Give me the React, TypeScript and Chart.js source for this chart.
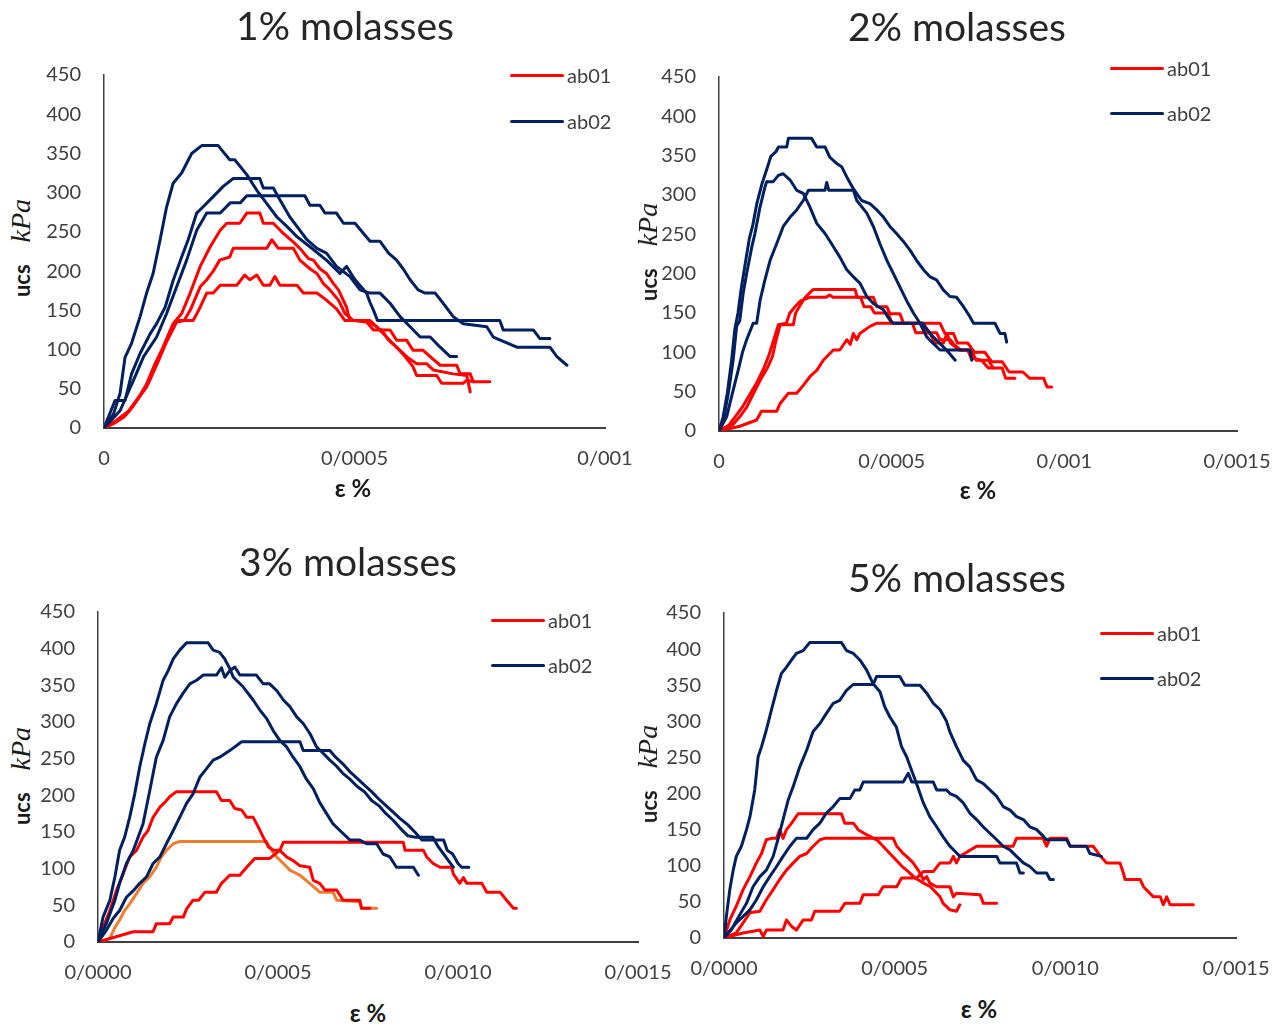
import React, { useEffect, useRef } from "react";
import { Chart, registerables } from "chart.js";

Chart.register(...registerables);

type Pt = [number, number];

const RED = "#FF0000";
const NAVY = "#002060";
const ORANGE = "#ED7D31";
const TICK_COLOR = "#404040";
const AXIS_COLOR = "#404040";
const FONT = "Lato, 'Noto Sans', sans-serif";

const UCS_TICKS = [0, 50, 100, 150, 200, 250, 300, 350, 400, 450];
const SERIES_NAMES = ["ab01", "ab02"];

// ---------- 1% molasses ----------
const M1_TITLE = "1% molasses";
const M1_X_TICKS = [0, 5e-4, 10e-4];
const M1_X_LABELS = ["0", "0/0005", "0/001"];
const m1_ab02_1: Pt[] = [[0,0],[0.19e-4,18],[0.32e-4,44],[0.42e-4,90],[0.55e-4,108],[0.72e-4,142],[0.85e-4,172],[0.98e-4,197],[1.12e-4,240],[1.25e-4,282],[1.38e-4,312],[1.55e-4,325],[1.75e-4,350],[1.95e-4,360],[2.28e-4,360],[2.38e-4,352],[2.51e-4,342],[2.61e-4,342],[2.85e-4,323],[3.05e-4,303],[3.25e-4,286],[3.45e-4,269],[3.65e-4,257],[3.85e-4,244],[4.11e-4,231],[4.44e-4,214],[4.71e-4,197],[4.84e-4,206],[5.01e-4,189],[5.24e-4,172],[5.31e-4,160],[5.38e-4,150],[5.46e-4,137],[7.90e-4,137],[7.97e-4,125],[8.57e-4,125],[8.70e-4,114],[8.90e-4,114]];
const m1_ab02_2: Pt[] = [[0,0],[0.22e-4,35],[0.42e-4,35],[0.55e-4,69],[0.72e-4,95],[0.92e-4,120],[1.05e-4,133],[1.22e-4,154],[1.38e-4,188],[1.55e-4,218],[1.68e-4,240],[1.85e-4,274],[1.98e-4,282],[2.18e-4,295],[2.38e-4,308],[2.58e-4,318],[3.11e-4,318],[3.18e-4,306],[3.38e-4,306],[3.51e-4,291],[3.71e-4,269],[3.91e-4,252],[4.05e-4,240],[4.25e-4,229],[4.44e-4,223],[4.64e-4,206],[4.91e-4,193],[5.11e-4,176],[5.31e-4,172],[5.51e-4,172],[5.71e-4,159],[5.91e-4,142],[6.11e-4,129],[6.31e-4,116],[6.51e-4,116],[6.71e-4,103],[6.91e-4,91],[7.04e-4,91]];
const m1_ab02_3: Pt[] = [[0,0],[0.32e-4,22],[0.59e-4,61],[0.79e-4,91],[1.05e-4,116],[1.25e-4,146],[1.45e-4,180],[1.65e-4,214],[1.85e-4,252],[2.05e-4,274],[2.32e-4,274],[2.52e-4,287],[2.72e-4,287],[2.85e-4,296],[4.01e-4,296],[4.11e-4,284],[4.31e-4,284],[4.41e-4,274],[4.64e-4,274],[4.78e-4,261],[5.01e-4,261],[5.18e-4,248],[5.31e-4,238],[5.51e-4,238],[5.68e-4,223],[5.84e-4,214],[5.97e-4,203],[6.11e-4,189],[6.27e-4,176],[6.41e-4,172],[6.61e-4,172],[6.77e-4,159],[6.97e-4,142],[7.17e-4,133],[7.64e-4,129],[7.77e-4,116],[8.24e-4,103],[8.90e-4,103],[9.04e-4,91],[9.24e-4,80]];
const m1_ab01_1: Pt[] = [[0,0],[0.2e-4,6],[0.4e-4,14],[0.55e-4,25],[0.7e-4,39],[0.85e-4,56],[1.02e-4,82],[1.18e-4,103],[1.38e-4,133],[1.55e-4,146],[1.72e-4,172],[1.92e-4,206],[2.12e-4,231],[2.32e-4,252],[2.45e-4,261],[2.71e-4,261],[2.85e-4,274],[3.11e-4,274],[3.18e-4,261],[3.38e-4,261],[3.58e-4,248],[3.78e-4,237],[3.91e-4,229],[4.08e-4,216],[4.18e-4,214],[4.31e-4,203],[4.44e-4,197],[4.58e-4,184],[4.68e-4,176],[4.84e-4,154],[4.91e-4,137],[5.31e-4,137],[5.51e-4,125],[5.71e-4,125],[5.84e-4,112],[6.04e-4,112],[6.17e-4,99],[6.37e-4,99],[6.51e-4,91],[6.71e-4,80],[7.04e-4,80],[7.11e-4,69],[7.31e-4,69],[7.37e-4,59],[7.70e-4,59]];
const m1_ab01_2: Pt[] = [[0,0],[0.25e-4,8],[0.45e-4,18],[0.65e-4,35],[0.85e-4,52],[1.05e-4,80],[1.25e-4,110],[1.45e-4,135],[1.6e-4,137],[1.72e-4,150],[1.82e-4,165],[1.92e-4,180],[2.05e-4,189],[2.18e-4,200],[2.31e-4,214],[2.51e-4,218],[2.58e-4,229],[3.25e-4,229],[3.35e-4,240],[3.48e-4,229],[3.78e-4,229],[3.91e-4,214],[4.11e-4,203],[4.25e-4,197],[4.38e-4,184],[4.51e-4,176],[4.68e-4,163],[4.81e-4,146],[4.98e-4,137],[5.24e-4,135],[5.38e-4,125],[5.54e-4,125],[5.68e-4,112],[5.84e-4,103],[6.04e-4,91],[6.24e-4,82],[6.44e-4,82],[6.57e-4,74],[6.97e-4,69],[7.24e-4,67],[7.31e-4,46]];
const m1_ab01_3: Pt[] = [[0,0],[0.25e-4,10],[0.5e-4,22],[0.7e-4,40],[0.9e-4,60],[1.1e-4,90],[1.3e-4,120],[1.45e-4,137],[1.78e-4,137],[1.92e-4,154],[2.05e-4,172],[2.18e-4,172],[2.32e-4,182],[2.65e-4,182],[2.81e-4,195],[2.91e-4,189],[3.05e-4,195],[3.18e-4,182],[3.31e-4,182],[3.41e-4,193],[3.51e-4,182],[3.85e-4,182],[3.98e-4,172],[4.25e-4,172],[4.44e-4,163],[4.64e-4,152],[4.81e-4,137],[5.24e-4,137],[5.44e-4,129],[5.64e-4,116],[5.84e-4,103],[6.01e-4,91],[6.17e-4,78],[6.24e-4,67],[6.64e-4,67],[6.74e-4,57],[7.17e-4,57],[7.24e-4,61],[7.37e-4,59]];

// ---------- 2% molasses ----------
const M2_TITLE = "2% molasses";
const M2_X_TICKS = [0, 5e-4, 10e-4, 15e-4];
const M2_X_LABELS = ["0", "0/0005", "0/001", "0/0015"];
const m2_ab02_1: Pt[] = [[0,0],[0.12e-4,18],[0.24e-4,48],[0.36e-4,88],[0.46e-4,130],[0.55e-4,150],[0.64e-4,180],[0.75e-4,210],[0.88e-4,245],[0.98e-4,262],[1.1e-4,290],[1.25e-4,315],[1.4e-4,335],[1.5e-4,349],[1.65e-4,355],[1.72e-4,361],[1.96e-4,361],[2.01e-4,372],[2.68e-4,372],[2.83e-4,361],[3.07e-4,361],[3.21e-4,348],[3.41e-4,340],[3.55e-4,336],[3.70e-4,323],[3.89e-4,308],[4.13e-4,293],[4.37e-4,289],[4.57e-4,281],[4.76e-4,272],[4.95e-4,260],[5.14e-4,251],[5.34e-4,241],[5.53e-4,230],[5.72e-4,217],[5.92e-4,205],[6.11e-4,196],[6.30e-4,192],[6.50e-4,179],[6.69e-4,171],[6.88e-4,170],[7.08e-4,158],[7.27e-4,145],[7.37e-4,137],[7.99e-4,137],[8.14e-4,124],[8.28e-4,124],[8.33e-4,113]];
const m2_ab02_2: Pt[] = [[0,0],[0.13e-4,14],[0.27e-4,48],[0.41e-4,90],[0.51e-4,133],[0.6e-4,140],[0.70e-4,175],[0.80e-4,200],[0.95e-4,234],[1.04e-4,251],[1.19e-4,285],[1.33e-4,310],[1.38e-4,317],[1.57e-4,317],[1.72e-4,325],[1.86e-4,327],[2.06e-4,319],[2.25e-4,306],[2.44e-4,302],[2.63e-4,285],[2.83e-4,264],[3.07e-4,251],[3.26e-4,238],[3.50e-4,221],[3.70e-4,205],[3.89e-4,196],[4.08e-4,188],[4.28e-4,171],[4.47e-4,162],[4.76e-4,154],[4.95e-4,141],[5.05e-4,137],[5.90e-4,137],[6.11e-4,124],[6.40e-4,111],[6.59e-4,103],[6.84e-4,90]];
const m2_ab02_3: Pt[] = [[0,0],[0.22e-4,18],[0.40e-4,50],[0.56e-4,78],[0.68e-4,100],[0.80e-4,116],[0.99e-4,137],[1.09e-4,137],[1.19e-4,166],[1.33e-4,192],[1.48e-4,217],[1.67e-4,238],[1.86e-4,260],[2.06e-4,272],[2.25e-4,281],[2.44e-4,293],[2.59e-4,306],[3.07e-4,306],[3.12e-4,316],[3.18e-4,306],[3.89e-4,306],[3.99e-4,293],[4.28e-4,277],[4.47e-4,260],[4.66e-4,238],[4.86e-4,217],[5.05e-4,200],[5.24e-4,183],[5.43e-4,166],[5.63e-4,150],[5.82e-4,137],[6.01e-4,120],[6.21e-4,111],[6.40e-4,103],[7.27e-4,103],[7.32e-4,90]];
const m2_ab01_1: Pt[] = [[0,0],[0.4e-4,8],[0.6e-4,18],[0.8e-4,30],[1.0e-4,48],[1.2e-4,65],[1.4e-4,80],[1.55e-4,95],[1.65e-4,115],[1.77e-4,135],[2.15e-4,135],[2.22e-4,150],[2.35e-4,160],[2.5e-4,170],[2.73e-4,180],[3.94e-4,180],[4.0e-4,170],[4.47e-4,170],[4.57e-4,158],[4.86e-4,158],[4.95e-4,149],[5.24e-4,149],[5.34e-4,137],[5.9e-4,137],[6.0e-4,125],[6.3e-4,125],[6.4e-4,116],[6.7e-4,116],[6.8e-4,110],[7.0e-4,103],[7.3e-4,103],[7.45e-4,90],[7.8e-4,90],[7.94e-4,80]];
const m2_ab01_2: Pt[] = [[0,0],[0.3e-4,8],[0.5e-4,20],[0.7e-4,32],[0.9e-4,47],[1.1e-4,62],[1.3e-4,80],[1.45e-4,97],[1.6e-4,118],[1.72e-4,135],[1.95e-4,137],[2.05e-4,150],[2.2e-4,158],[2.35e-4,165],[2.63e-4,170],[3.1e-4,170],[3.2e-4,173],[3.3e-4,170],[4.1e-4,170],[4.2e-4,158],[4.4e-4,158],[4.5e-4,150],[4.9e-4,150],[5.0e-4,137],[5.6e-4,137],[5.7e-4,125],[6.1e-4,125],[6.25e-4,112],[6.5e-4,112],[6.6e-4,124],[6.7e-4,112],[6.95e-4,103],[7.2e-4,103],[7.3e-4,93],[7.6e-4,90],[7.8e-4,80],[8.2e-4,80],[8.3e-4,67],[8.57e-4,67]];
const m2_ab01_3: Pt[] = [[0,0],[0.6e-4,6],[1.09e-4,14],[1.23e-4,25],[1.67e-4,25],[1.77e-4,35],[2.01e-4,48],[2.25e-4,48],[2.44e-4,58],[2.63e-4,69],[2.83e-4,77],[3.02e-4,90],[3.31e-4,103],[3.50e-4,103],[3.70e-4,116],[3.80e-4,110],[3.89e-4,124],[3.99e-4,116],[4.08e-4,124],[4.37e-4,133],[4.57e-4,137],[6.40e-4,137],[6.54e-4,124],[6.79e-4,124],[6.9e-4,112],[7.2e-4,112],[7.4e-4,100],[7.7e-4,100],[7.9e-4,88],[8.2e-4,88],[8.4e-4,75],[8.8e-4,75],[9.0e-4,67],[9.4e-4,67],[9.5e-4,56],[9.63e-4,56]];

// ---------- 3% molasses ----------
const M3_TITLE = "3% molasses";
const M3_X_TICKS = [0, 5e-4, 10e-4, 15e-4];
const M3_X_LABELS = ["0/0000", "0/0005", "0/0010", "0/0015"];
const m3_ab02_1: Pt[] = [[0,0],[0.14e-4,34],[0.33e-4,57],[0.47e-4,89],[0.60e-4,125],[0.74e-4,143],[0.88e-4,170],[1.02e-4,202],[1.16e-4,239],[1.30e-4,270],[1.44e-4,298],[1.62e-4,325],[1.81e-4,357],[1.95e-4,370],[2.09e-4,386],[2.27e-4,398],[2.46e-4,408],[3.06e-4,408],[3.20e-4,398],[3.38e-4,395],[3.52e-4,386],[3.66e-4,373],[3.76e-4,361],[4.03e-4,348],[4.31e-4,330],[4.50e-4,316],[4.68e-4,305],[4.87e-4,288],[5.05e-4,275],[5.24e-4,266],[5.42e-4,252],[5.61e-4,239],[5.79e-4,222],[5.98e-4,209],[6.16e-4,190],[6.35e-4,175],[6.53e-4,161],[6.72e-4,152],[7.0e-4,139],[7.27e-4,139],[7.46e-4,134],[7.74e-4,134],[7.92e-4,120],[8.11e-4,116],[8.29e-4,102],[8.76e-4,102],[8.90e-4,91]];
const m3_ab02_2: Pt[] = [[0,0],[0.23e-4,25],[0.47e-4,57],[0.60e-4,80],[0.79e-4,107],[0.98e-4,125],[1.25e-4,161],[1.44e-4,207],[1.62e-4,252],[1.81e-4,275],[1.99e-4,307],[2.18e-4,325],[2.36e-4,339],[2.55e-4,352],[2.74e-4,357],[2.92e-4,364],[3.29e-4,364],[3.43e-4,374],[3.52e-4,361],[3.66e-4,370],[3.80e-4,375],[3.94e-4,364],[4.40e-4,364],[4.59e-4,352],[4.77e-4,352],[4.96e-4,343],[5.15e-4,330],[5.33e-4,321],[5.52e-4,307],[5.70e-4,298],[5.89e-4,284],[6.07e-4,266],[6.26e-4,257],[6.44e-4,248],[6.62e-4,240],[6.8e-4,230],[7.0e-4,222],[7.2e-4,212],[7.4e-4,205],[7.6e-4,193],[7.8e-4,186],[8.0e-4,175],[8.2e-4,166],[8.4e-4,155],[8.6e-4,145],[8.8e-4,143],[9.3e-4,143],[9.45e-4,130],[9.6e-4,120],[9.75e-4,110],[9.87e-4,102]];
const m3_ab02_3: Pt[] = [[0,0],[0.23e-4,16],[0.42e-4,32],[0.60e-4,43],[0.79e-4,61],[0.98e-4,70],[1.16e-4,80],[1.35e-4,89],[1.53e-4,107],[1.72e-4,116],[1.90e-4,134],[2.09e-4,152],[2.27e-4,170],[2.46e-4,189],[2.64e-4,202],[2.83e-4,225],[3.01e-4,236],[3.20e-4,248],[3.38e-4,252],[3.66e-4,261],[3.99e-4,273],[5.61e-4,273],[5.70e-4,261],[6.44e-4,261],[6.6e-4,252],[6.8e-4,243],[7.0e-4,232],[7.2e-4,223],[7.4e-4,214],[7.6e-4,205],[7.8e-4,195],[8.0e-4,186],[8.2e-4,177],[8.4e-4,168],[8.6e-4,160],[8.8e-4,150],[9.0e-4,139],[9.6e-4,139],[9.7e-4,125],[9.85e-4,120],[10.0e-4,107],[10.1e-4,102],[10.3e-4,102]];
const m3_ab01_1: Pt[] = [[0,0],[0.14e-4,20],[0.33e-4,43],[0.51e-4,70],[0.70e-4,93],[0.88e-4,116],[1.07e-4,125],[1.25e-4,143],[1.39e-4,152],[1.53e-4,170],[1.72e-4,184],[1.85e-4,190],[1.99e-4,198],[2.18e-4,205],[3.29e-4,205],[3.43e-4,193],[3.66e-4,193],[3.80e-4,182],[3.99e-4,180],[4.13e-4,170],[4.31e-4,170],[4.45e-4,157],[4.59e-4,143],[4.73e-4,130],[4.87e-4,125],[5.05e-4,125],[5.24e-4,116],[5.42e-4,111],[5.61e-4,104],[5.88e-4,102],[5.98e-4,84],[6.16e-4,80],[6.30e-4,71],[6.63e-4,71],[6.81e-4,57],[7.27e-4,57],[7.32e-4,46],[7.55e-4,46]];
const m3_ab01_2: Pt[] = [[0,0],[0.33e-4,5],[0.47e-4,20],[0.60e-4,30],[0.74e-4,43],[0.88e-4,52],[1.07e-4,66],[1.25e-4,80],[1.44e-4,89],[1.62e-4,102],[1.76e-4,116],[1.90e-4,125],[2.09e-4,134],[2.27e-4,137],[4.68e-4,137],[4.82e-4,125],[4.96e-4,116],[5.15e-4,107],[5.33e-4,98],[5.61e-4,91],[5.88e-4,80],[6.16e-4,68],[6.53e-4,68],[6.63e-4,57],[7.27e-4,55],[7.32e-4,46],[7.74e-4,46]];
const m3_ab01_3: Pt[] = [[0,0],[0.98e-4,14],[1.53e-4,14],[1.62e-4,25],[1.99e-4,25],[2.09e-4,34],[2.37e-4,34],[2.46e-4,45],[2.64e-4,57],[2.80e-4,57],[2.97e-4,68],[3.29e-4,68],[3.43e-4,80],[3.66e-4,91],[3.94e-4,91],[4.13e-4,102],[4.36e-4,114],[4.77e-4,114],[5.05e-4,125],[5.15e-4,136],[8.48e-4,136],[8.53e-4,125],[9.04e-4,125],[9.13e-4,116],[9.31e-4,107],[9.50e-4,102],[9.82e-4,102],[9.87e-4,93],[10.05e-4,80],[10.15e-4,88],[10.24e-4,80],[10.66e-4,80],[10.80e-4,68],[11.17e-4,68],[11.35e-4,57],[11.54e-4,46],[11.62e-4,46]];

// ---------- 5% molasses ----------
const M4_TITLE = "5% molasses";
const M4_X_TICKS = [0, 5e-4, 10e-4, 15e-4];
const M4_X_LABELS = ["0/0000", "0/0005", "0/0010", "0/0015"];
const m4_ab02_1: Pt[] = [[0,0],[0.07e-4,30],[0.17e-4,67],[0.27e-4,94],[0.36e-4,113],[0.51e-4,127],[0.66e-4,150],[0.76e-4,168],[0.90e-4,205],[1.0e-4,251],[1.1e-4,265],[1.24e-4,288],[1.39e-4,316],[1.54e-4,343],[1.68e-4,366],[1.83e-4,375],[1.98e-4,385],[2.12e-4,394],[2.32e-4,398],[2.51e-4,409],[3.44e-4,409],[3.59e-4,398],[3.79e-4,394],[3.98e-4,385],[4.18e-4,371],[4.37e-4,352],[4.57e-4,341],[4.71e-4,320],[4.86e-4,306],[5.05e-4,292],[5.20e-4,265],[5.35e-4,251],[5.49e-4,233],[5.64e-4,214],[5.84e-4,187],[6.03e-4,168],[6.23e-4,154],[6.42e-4,140],[6.62e-4,127],[6.81e-4,118],[6.91e-4,113],[7.99e-4,113],[8.08e-4,104],[8.57e-4,104],[8.67e-4,90],[8.77e-4,90]];
const m4_ab02_2: Pt[] = [[0,0],[0.21e-4,11],[0.46e-4,32],[0.66e-4,48],[0.85e-4,71],[1.05e-4,85],[1.24e-4,94],[1.44e-4,113],[1.59e-4,138],[1.73e-4,164],[1.88e-4,191],[2.03e-4,210],[2.22e-4,237],[2.42e-4,260],[2.61e-4,286],[2.81e-4,297],[3.0e-4,311],[3.2e-4,325],[3.39e-4,329],[3.59e-4,343],[3.78e-4,351],[4.37e-4,351],[4.47e-4,362],[5.15e-4,362],[5.30e-4,350],[5.74e-4,350],[5.94e-4,339],[6.13e-4,325],[6.33e-4,316],[6.52e-4,300],[6.62e-4,285],[6.81e-4,265],[7.01e-4,246],[7.20e-4,237],[7.40e-4,219],[7.59e-4,214],[7.79e-4,205],[7.99e-4,196],[8.18e-4,182],[8.38e-4,177],[8.57e-4,168],[8.77e-4,164],[8.96e-4,154],[9.16e-4,150],[9.35e-4,141],[9.45e-4,136],[10.04e-4,136],[10.14e-4,127],[10.62e-4,127],[10.72e-4,117],[11.06e-4,113]];
const m4_ab02_3: Pt[] = [[0,0],[0.36e-4,21],[0.56e-4,30],[0.76e-4,39],[0.95e-4,53],[1.15e-4,71],[1.34e-4,85],[1.54e-4,99],[1.73e-4,113],[1.93e-4,127],[2.12e-4,138],[2.42e-4,138],[2.61e-4,150],[2.81e-4,159],[3.0e-4,173],[3.2e-4,182],[3.39e-4,193],[3.69e-4,193],[3.83e-4,205],[3.98e-4,205],[4.08e-4,216],[5.25e-4,216],[5.40e-4,228],[5.50e-4,216],[6.13e-4,216],[6.23e-4,205],[6.52e-4,205],[6.62e-4,200],[6.81e-4,196],[7.01e-4,187],[7.20e-4,173],[7.40e-4,164],[7.59e-4,154],[7.79e-4,145],[7.99e-4,136],[8.18e-4,127],[8.38e-4,122],[8.57e-4,113],[8.77e-4,104],[8.96e-4,99],[9.16e-4,90],[9.45e-4,90],[9.55e-4,81],[9.65e-4,81]];
const m4_ab01_1: Pt[] = [[0,0],[0.17e-4,25],[0.36e-4,44],[0.56e-4,67],[0.76e-4,85],[0.95e-4,104],[1.1e-4,117],[1.24e-4,136],[1.39e-4,138],[1.54e-4,138],[1.63e-4,150],[1.73e-4,138],[1.83e-4,150],[1.98e-4,159],[2.17e-4,172],[3.44e-4,172],[3.54e-4,159],[3.79e-4,159],[3.93e-4,150],[4.1e-4,145],[4.3e-4,140],[4.5e-4,135],[4.66e-4,127],[4.86e-4,117],[5.0e-4,110],[5.2e-4,100],[5.4e-4,92],[5.6e-4,83],[5.85e-4,76],[6.05e-4,71],[6.23e-4,62],[6.33e-4,57],[6.42e-4,48],[6.62e-4,39],[6.81e-4,37],[6.91e-4,46]];
const m4_ab01_2: Pt[] = [[0,0],[0.36e-4,7],[0.56e-4,21],[0.76e-4,35],[1.05e-4,37],[1.24e-4,53],[1.44e-4,67],[1.63e-4,81],[1.83e-4,94],[2.03e-4,104],[2.22e-4,113],[2.42e-4,117],[2.61e-4,127],[2.81e-4,136],[2.95e-4,138],[4.96e-4,138],[5.06e-4,127],[5.25e-4,117],[5.35e-4,113],[5.54e-4,104],[5.69e-4,94],[5.84e-4,81],[5.94e-4,85],[6.03e-4,76],[6.23e-4,71],[6.62e-4,71],[6.72e-4,57],[6.81e-4,62],[7.50e-4,60],[7.60e-4,48],[7.99e-4,48]];
const m4_ab01_3: Pt[] = [[0,0],[0.56e-4,7],[1.05e-4,11],[1.15e-4,2],[1.24e-4,11],[1.73e-4,11],[1.83e-4,25],[1.98e-4,16],[2.12e-4,11],[2.32e-4,25],[2.56e-4,25],[2.66e-4,37],[3.39e-4,37],[3.54e-4,48],[3.98e-4,48],[4.08e-4,60],[4.52e-4,60],[4.66e-4,71],[5.06e-4,71],[5.20e-4,83],[5.64e-4,83],[5.84e-4,92],[6.13e-4,92],[6.33e-4,104],[6.62e-4,104],[6.72e-4,113],[6.81e-4,104],[6.91e-4,113],[7.40e-4,127],[8.47e-4,127],[8.57e-4,138],[9.35e-4,138],[9.45e-4,127],[9.55e-4,138],[10.04e-4,138],[10.14e-4,127],[10.82e-4,127],[11.0e-4,115],[11.21e-4,104],[11.60e-4,104],[11.70e-4,90],[11.75e-4,81],[12.19e-4,81],[12.29e-4,71],[12.58e-4,57],[12.78e-4,57],[12.87e-4,46],[12.97e-4,57],[13.07e-4,46],[13.75e-4,46]];

type Series = { pts: Pt[]; color: string };
type PanelSpec = {
  title: string;
  xTicks: number[];
  xLabels: string[];
  xMax: number;
  series: Series[];
  canvas: { left: number; top: number; w: number; h: number };
  titlePos: [number, number];
  yTitlePos: [number, number];
  xTitlePos: [number, number];
  legend: { x: number; y1: number; y2: number };
};

// layout constants: chart area = canvas offset by (Y_AXIS_W, PAD_TOP); right padding PAD_RIGHT; x-axis height X_AXIS_H
const Y_AXIS_W = 60;
const PAD_TOP = 40;
const PAD_RIGHT = 60;
const X_AXIS_H = 50;

const PANELS: PanelSpec[] = [
  {
    title: M1_TITLE, xTicks: M1_X_TICKS, xLabels: M1_X_LABELS, xMax: M1_X_TICKS[M1_X_TICKS.length - 1],
    series: [
      { pts: m1_ab02_1, color: NAVY }, { pts: m1_ab02_2, color: NAVY }, { pts: m1_ab02_3, color: NAVY },
      { pts: m1_ab01_1, color: RED }, { pts: m1_ab01_2, color: RED }, { pts: m1_ab01_3, color: RED },
    ],
    canvas: { left: 44, top: 35, w: 605 - 44 + PAD_RIGHT, h: 428 - 35 + X_AXIS_H },
    titlePos: [345, 25], yTitlePos: [21, 248], xTitlePos: [353, 488],
    legend: { x: 510, y1: 75, y2: 121 },
  },
  {
    title: M2_TITLE, xTicks: M2_X_TICKS, xLabels: M2_X_LABELS, xMax: M2_X_TICKS[M2_X_TICKS.length - 1],
    series: [
      { pts: m2_ab02_1, color: NAVY }, { pts: m2_ab02_2, color: NAVY }, { pts: m2_ab02_3, color: NAVY },
      { pts: m2_ab01_1, color: RED }, { pts: m2_ab01_2, color: RED }, { pts: m2_ab01_3, color: RED },
    ],
    canvas: { left: 659, top: 37, w: 1237 - 659 + PAD_RIGHT, h: 431 - 37 + X_AXIS_H },
    titlePos: [957, 26], yTitlePos: [648, 252], xTitlePos: [978, 490],
    legend: { x: 1110, y1: 68, y2: 113 },
  },
  {
    title: M3_TITLE, xTicks: M3_X_TICKS, xLabels: M3_X_LABELS, xMax: M3_X_TICKS[M3_X_TICKS.length - 1],
    series: [
      { pts: m3_ab02_1, color: NAVY }, { pts: m3_ab02_2, color: NAVY }, { pts: m3_ab02_3, color: NAVY },
      { pts: m3_ab01_1, color: RED }, { pts: m3_ab01_3, color: RED }, { pts: m3_ab01_2, color: ORANGE },
    ],
    canvas: { left: 38, top: 572, w: 638 - 38 + PAD_RIGHT, h: 942 - 572 + X_AXIS_H },
    titlePos: [348, 561], yTitlePos: [21, 776], xTitlePos: [368, 1013],
    legend: { x: 491, y1: 620, y2: 665 },
  },
  {
    title: M4_TITLE, xTicks: M4_X_TICKS, xLabels: M4_X_LABELS, xMax: M4_X_TICKS[M4_X_TICKS.length - 1],
    series: [
      { pts: m4_ab02_1, color: NAVY }, { pts: m4_ab02_2, color: NAVY }, { pts: m4_ab02_3, color: NAVY },
      { pts: m4_ab01_1, color: RED }, { pts: m4_ab01_2, color: RED }, { pts: m4_ab01_3, color: RED },
    ],
    canvas: { left: 664, top: 573, w: 1236 - 664 + PAD_RIGHT, h: 938 - 573 + X_AXIS_H },
    titlePos: [957, 577], yTitlePos: [648, 774], xTitlePos: [979, 1009],
    legend: { x: 1100, y1: 633, y2: 678 },
  },
];

function Panel({ spec }: { spec: PanelSpec }) {
  const ref = useRef<HTMLCanvasElement | null>(null);
  useEffect(() => {
    if (!ref.current) return;
    const chart = new Chart(ref.current, {
      type: "line",
      data: {
        datasets: spec.series.map((s) => ({
          data: s.pts.map(([x, y]) => ({ x, y })),
          borderColor: s.color,
          backgroundColor: s.color,
          borderWidth: 3,
          pointRadius: 0,
          tension: 0,
          fill: false,
          borderJoinStyle: "round" as const,
          borderCapStyle: "round" as const,
        })),
      },
      options: {
        responsive: false,
        animation: false,
        events: [],
        layout: { padding: { top: PAD_TOP, right: PAD_RIGHT, left: 0, bottom: 0 } },
        plugins: { legend: { display: false }, tooltip: { enabled: false }, title: { display: false } },
        scales: {
          x: {
            type: "linear",
            min: 0,
            max: spec.xMax,
            grid: { display: false, drawTicks: false },
            border: { display: true, color: AXIS_COLOR, width: 2 },
            ticks: {
              padding: 19,
              color: TICK_COLOR,
              font: { family: FONT, size: 20 },
              maxRotation: 0,
              autoSkip: false,
              callback: (_v: any, i: number) => spec.xLabels[i],
            },
            afterBuildTicks: (s: any) => {
              s.ticks = spec.xTicks.map((v) => ({ value: v }));
            },
            afterFit: (s: any) => {
              s.height = X_AXIS_H;
            },
          },
          y: {
            type: "linear",
            min: 0,
            max: 450,
            grid: { display: false, drawTicks: false },
            border: { display: true, color: AXIS_COLOR, width: 1.5 },
            ticks: {
              padding: 23,
              color: TICK_COLOR,
              font: { family: FONT, size: 20 },
              autoSkip: false,
              callback: (_v: any, i: number) => String(UCS_TICKS[i]),
            },
            afterBuildTicks: (s: any) => {
              s.ticks = UCS_TICKS.map((v) => ({ value: v }));
            },
            afterFit: (s: any) => {
              s.width = Y_AXIS_W;
            },
          },
        },
      } as any,
    });
    return () => chart.destroy();
  }, [spec]);

  const abs = (x: number, y: number): React.CSSProperties => ({
    position: "absolute",
    left: x,
    top: y,
    transform: "translate(-50%, -50%)",
    whiteSpace: "nowrap",
    lineHeight: 1,
  });

  return (
    <>
      <canvas
        ref={ref}
        width={spec.canvas.w}
        height={spec.canvas.h}
        style={{ position: "absolute", left: spec.canvas.left, top: spec.canvas.top, width: spec.canvas.w, height: spec.canvas.h }}
      />
      <div style={{ ...abs(spec.titlePos[0], spec.titlePos[1]), fontFamily: FONT, fontSize: 39, color: "#262626" }}>{spec.title}</div>
      <div
        style={{
          position: "absolute",
          left: spec.yTitlePos[0],
          top: spec.yTitlePos[1],
          transform: "translate(-50%, -50%) rotate(-90deg)",
          whiteSpace: "nowrap",
          lineHeight: 1,
          color: "#1a1a1a",
        }}
      >
        <span style={{ fontFamily: FONT, fontWeight: 700, fontSize: 22 }}>ucs</span>
        <span style={{ fontFamily: "'Liberation Serif', serif", fontStyle: "italic", fontSize: 28, marginLeft: 22 }}>kPa</span>
      </div>
      <div style={{ ...abs(spec.xTitlePos[0], spec.xTitlePos[1]), fontFamily: FONT, fontWeight: 700, fontSize: 24, color: "#1a1a1a" }}>ε %</div>
      {[spec.legend.y1, spec.legend.y2].map((y, i) => (
        <div key={i} style={{ position: "absolute", left: spec.legend.x, top: y - 12, height: 24, display: "flex", alignItems: "center", whiteSpace: "nowrap" }}>
          <div style={{ width: 54, height: 3, borderRadius: 2, background: i === 0 ? RED : NAVY }} />
          <span style={{ marginLeft: 3, fontFamily: FONT, fontSize: 20, color: TICK_COLOR }}>{SERIES_NAMES[i]}</span>
        </div>
      ))}
    </>
  );
}

export default function App() {
  return (
    <div style={{ position: "absolute", left: 0, top: 0, width: 1282, height: 1028, background: "#ffffff", overflow: "hidden" }}>
      {PANELS.map((p, i) => (
        <Panel key={i} spec={p} />
      ))}
    </div>
  );
}
